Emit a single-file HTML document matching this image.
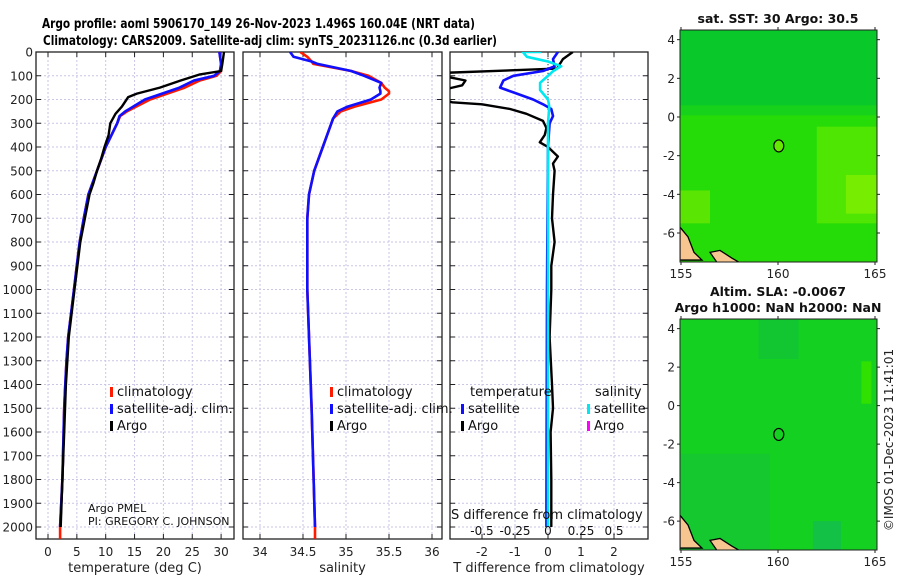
<!DOCTYPE html>
<html><head><meta charset="utf-8"><style>
html,body{margin:0;padding:0;background:#fff;}
svg{display:block;font-family:"DejaVu Sans","Liberation Sans",sans-serif;}
</style></head><body>
<svg id="fig" width="900" height="580" viewBox="0 0 900 580" xmlns="http://www.w3.org/2000/svg">
<text x="42" y="28" font-size="13" font-weight="bold" textLength="433" lengthAdjust="spacingAndGlyphs">Argo profile: aoml 5906170_149 26-Nov-2023 1.496S 160.04E (NRT data)</text>
<text x="43" y="45" font-size="13" font-weight="bold" textLength="454" lengthAdjust="spacingAndGlyphs">Climatology: CARS2009. Satellite-adj clim: synTS_20231126.nc (0.3d earlier)</text>
<g id="panels"></g>
<g id="maps"></g>
<text transform="translate(893,440) rotate(-90)" text-anchor="middle" font-size="12" fill="#222">©IMOS 01-Dec-2023 11:41:01</text>
</svg>
<script>
// ---------- data ----------
const depthTicks=[0,100,200,300,400,500,600,700,800,900,1000,1100,1200,1300,1400,1500,1600,1700,1800,1900,2000];
const tempTicks=[0,5,10,15,20,25,30];
const salTicks=[34,34.5,35,35.5,36];
const tdiffTicks=[-2,-1,0,1,2];
const sdiffTicks=[-0.5,-0.25,0,0.25,0.5];
const sdiffLabels=["-0.5","-0.25","0","0.25","0.5"];

const climDepth=[0,50,80,100,120,150,200,250,270,300,400,500,600,700,800,900,1000,1100,1200,1300,1400,1500,1600,1800,2000,2050];
const climTemp=[29.7,30,30,29.2,26.3,23.7,17.7,13.7,12.5,12,10,8.5,7,6.2,5.5,5,4.5,4,3.5,3.2,3,2.8,2.7,2.5,2.1,2.1];
const satTemp=[29.7,30,29.8,28.8,25.3,22.8,16.8,13.4,12.4,12,10,8.5,7,6.2,5.5,5,4.5,4,3.5,3.2,3,2.8,2.7,2.5,2.1,null];
const argoDepth=[0,50,80,95,120,150,175,190,230,260,300,350,400,450,500,550,600,700,800,900,1000,1200,1400,1600,1800,2000];
const argoTemp=[30.5,30.2,30,26.2,23,19.4,15.4,13.9,12.8,11.7,10.8,10.5,9.8,9.2,8.5,7.9,7.2,6.4,5.6,5.1,4.6,3.6,3.1,2.8,2.5,2.2];

const salDepth=[0,20,40,50,80,100,130,150,165,175,200,230,250,280,400,500,600,700,1000,1500,2000,2050];
const climSal=[34.47,34.55,34.6,34.62,35.06,35.26,35.41,35.45,35.5,35.5,35.41,35.1,34.94,34.85,34.73,34.63,34.57,34.55,34.55,34.6,34.64,34.64];
const satSal=[34.35,34.39,34.6,34.67,35.06,35.21,35.41,35.39,35.4,35.4,35.29,35.02,34.9,34.85,34.73,34.63,34.57,34.55,34.55,34.6,34.64,null];

const tdiffArgoDepth=[0,30,70,88,100,120,140,160,200,212,220,240,260,290,320,350,380,400,440,470,500,600,700,800,900,1000,1200,1400,1500,1600,1800,2000];
const tdiffArgo=[0.75,0.45,0.27,-3.2,-3.2,-2.5,-2.6,-3.2,-3.2,-2.9,-2.0,-1.15,-0.65,-0.15,-0.05,-0.1,-0.25,0,0.3,0.15,0.2,0.15,0.12,0.2,0.1,0.1,0.05,0.12,0.15,0.08,0.1,0.1];
const tdiffSatDepth=[0,30,60,80,100,120,150,170,200,220,240,270,300,400,1000,2000];
const tdiffSat=[0.3,0.15,0.2,-0.15,-1.05,-1.35,-1.45,-1.05,-0.45,-0.15,0.1,0.15,0.05,0,-0.03,-0.05];
const sdiffSatDepth=[0,0,20,40,60,80,100,130,160,200,230,300,1000,2000];
const sdiffSat=[-0.05,-0.19,-0.16,0,0.1,0.04,0,-0.06,-0.06,0,0.01,0,0,0];

// ---------- helpers ----------
const NS="http://www.w3.org/2000/svg";
const panels=document.getElementById('panels');
function mk(tag,attrs,parent){const e=document.createElementNS(NS,tag);for(const k in attrs)e.setAttribute(k,attrs[k]);(parent||panels).appendChild(e);return e;}
const TOP=52,BOT=539;
function yD(d){return 52+d*0.2375;}

function panel(name,x0,x1,xfn,ticks,labels,xtitle,showDepthLabels){
  const g=mk('g',{});
  
  
  depthTicks.forEach(d=>{const l=mk('line',{x1:x0,x2:x1,y1:yD(d),y2:yD(d),stroke:'#c9c6e6','stroke-width':1,'stroke-dasharray':'2,2'},g);
    
    mk('line',{x1:x0,x2:x0+5,y1:yD(d),y2:yD(d),stroke:'#222'},g);
    mk('line',{x1:x1-5,x2:x1,y1:yD(d),y2:yD(d),stroke:'#222'},g);
    if(showDepthLabels){const t=mk('text',{x:33,y:yD(d)+4.5,'text-anchor':'end','font-size':12,fill:'#222'},g);t.textContent=d;
      }
  });
  ticks.forEach((v,i)=>{const x=xfn(v);
    const l=mk('line',{x1:x,x2:x,y1:TOP,y2:BOT,stroke:'#c9c6e6','stroke-width':1,'stroke-dasharray':'2,2'},g);
    
    mk('line',{x1:x,x2:x,y1:TOP,y2:TOP+5,stroke:'#222'},g);
    mk('line',{x1:x,x2:x,y1:BOT-5,y2:BOT,stroke:'#222'},g);
    if(labels){const t=mk('text',{x:x,y:556,'text-anchor':'middle','font-size':12,fill:'#222'},g);t.textContent=labels[i];
      }
  });
  const r=mk('rect',{x:x0,y:TOP,width:x1-x0,height:BOT-TOP,fill:'none',stroke:'#222','stroke-width':1.3},g);
  
  const tt=mk('text',{x:(x0+x1)/2,y:572,'text-anchor':'middle','font-size':13,fill:'#222'},g);tt.textContent=xtitle;
  
  return g;
}
function line(g,name,xs,ds,xfn,color,w){
  let pts=[];for(let i=0;i<xs.length;i++){if(xs[i]===null)continue;let x=xfn(xs[i]);pts.push(x.toFixed(1)+','+yD(ds[i]).toFixed(1));}
  const p=mk('polyline',{points:pts.join(' '),fill:'none',stroke:color,'stroke-width':w,'stroke-linejoin':'round'},g);
  
}
function legend(g,name,x,y,color,label){
  const m=mk('rect',{x:x,y:y-9,width:3,height:10,fill:color},g);
  
  const t=mk('text',{x:x+7,y:y,'font-size':13,fill:'#111'},g);t.textContent=label;
  
}
const clipId=(n,x0,x1)=>{const c=mk('clipPath',{id:n});mk('rect',{x:x0,y:TOP,width:x1-x0,height:BOT-TOP},c);return 'url(#'+n+')';};

// panel 1 temperature
const xT=v=>48+5.77*v;
const p1=panel('temperature-panel',36,234,xT,tempTicks,tempTicks.map(String),'temperature (deg C)',true);
const g1=mk('g',{'clip-path':clipId('c1',36,234)},p1);
line(g1,'temp-climatology-line',climTemp,climDepth,xT,'#ff1a00',2.6);
line(g1,'temp-satellite-line',satTemp,climDepth,xT,'#1010ff',2.6);
line(g1,'temp-argo-line',argoTemp,argoDepth,xT,'#000',2.4);
legend(p1,'legend-climatology',110,396,'#ff1a00','climatology');
legend(p1,'legend-satellite-adj',110,413,'#1010ff','satellite-adj. clim.');
legend(p1,'legend-argo',110,430,'#000','Argo');
let t=mk('text',{x:88,y:512,'font-size':11,fill:'#111'},p1);t.textContent='Argo PMEL';
t=mk('text',{x:88,y:525,'font-size':11,fill:'#111'},p1);t.textContent='PI: GREGORY C. JOHNSON';

// panel 2 salinity
const xS=v=>260+86*(v-34);
const p2=panel('salinity-panel',243,442,xS,salTicks,salTicks.map(String),'salinity',false);
const g2=mk('g',{'clip-path':clipId('c2',243,442)},p2);
line(g2,'sal-climatology-line',climSal,salDepth,xS,'#ff1a00',2.6);
line(g2,'sal-satellite-line',satSal,salDepth,xS,'#1010ff',2.6);
legend(p2,'legend-climatology-sal',330,396,'#ff1a00','climatology');
legend(p2,'legend-satellite-adj-sal',330,413,'#1010ff','satellite-adj. clim.');
legend(p2,'legend-argo-sal',330,430,'#000','Argo');

// panel 3 differences
const xTD=v=>548+33*v;
const xSD=v=>548+132*v;
const p3=panel('difference-panel',450,648,xTD,tdiffTicks,tdiffTicks.map(String),'T difference from climatology',false);
const g3=mk('g',{'clip-path':clipId('c3',450,648)},p3);
let z=mk('line',{x1:548,x2:548,y1:TOP,y2:112,stroke:'#333','stroke-dasharray':'1,2'},g3);
line(g3,'tdiff-argo-line',tdiffArgo,tdiffArgoDepth,xTD,'#000',2.4);
line(g3,'tdiff-satellite-line',tdiffSat,tdiffSatDepth,xTD,'#1010ff',2.6);
line(g3,'sdiff-satellite-line',sdiffSat,sdiffSatDepth,xSD,'#00e8f0',2.6);
legend(p3,'legend-temp-satellite',461,413,'#1010ff','satellite');
legend(p3,'legend-temp-argo',461,430,'#000','Argo');
legend(p3,'legend-sal-satellite',587,413,'#00e8f0','satellite');
legend(p3,'legend-sal-argo',587,430,'#ff00ff','Argo');
t=mk('text',{x:470,y:396,'font-size':13,fill:'#111'},p3);t.textContent='temperature';
t=mk('text',{x:595,y:396,'font-size':13,fill:'#111'},p3);t.textContent='salinity';
t=mk('text',{x:451,y:519,'font-size':13,fill:'#111'},p3);t.textContent='S difference from climatology';
sdiffTicks.forEach((v,i)=>{const tt=mk('text',{x:xSD(v),y:535,'text-anchor':'middle','font-size':12,fill:'#111'},p3);tt.textContent=sdiffLabels[i];
  });

// ---------- maps ----------
const maps=document.getElementById('maps');
const lonTicks=[155,160,165];
const latTicks=[4,2,0,-2,-4,-6];
function map(name,y0,y1,title1,title2,kind){
  const g=mk('g',{},maps);
  
  const x0=680,x1=877;
  const xl=v=>681+19.4*(v-155);
  const yl=v=>y0+(4.5-v)*(y1-y0)/12;
  const id=name+'-clip';
  const c=mk('clipPath',{id:id},g);mk('rect',{x:x0,y:y0,width:x1-x0,height:y1-y0},c);
  const ig=mk('g',{'clip-path':'url(#'+id+')'},g);
  if(kind==='sst'){
    mk('rect',{x:x0,y:y0,width:x1-x0,height:y1-y0,fill:'#26dc08'},ig);
    mk('rect',{x:x0,y:y0,width:x1-x0,height:yl(0.6)-y0,fill:'#08c82a'},ig);
    mk('rect',{x:x0,y:yl(0.6),width:x1-x0,height:10,fill:'#16d21a'},ig);
    mk('rect',{x:xl(162),y:yl(-0.5),width:x1-xl(162),height:yl(-5.5)-yl(-0.5),fill:'#5ae804',opacity:0.8},ig);
    mk('rect',{x:xl(163.5),y:yl(-3),width:x1-xl(163.5),height:yl(-5)-yl(-3),fill:'#88f000',opacity:0.7},ig);
    mk('rect',{x:x0,y:yl(-3.8),width:30,height:yl(-5.5)-yl(-3.8),fill:'#70e800',opacity:0.7},ig);
  } else {
    mk('rect',{x:x0,y:y0,width:x1-x0,height:y1-y0,fill:'#14d020'},ig);
    mk('rect',{x:xl(159),y:y0,width:40,height:40,fill:'#10c040',opacity:0.6},ig);
    mk('rect',{x:x0,y:yl(-2.5),width:90,height:yl(-7.5)-yl(-2.5),fill:'#18c040',opacity:0.5},ig);
    mk('rect',{x:xl(161.8),y:yl(-6),width:28,height:30,fill:'#10b860',opacity:0.6},ig);
    mk('rect',{x:xl(164.3),y:yl(2.3),width:10,height:yl(0.1)-yl(2.3),fill:'#30e000'},ig);
  }
  const land=mk('path',{d:`M${x0} ${yl(-5.7)} L${x0+8} ${yl(-6.2)} L${x0+14} ${yl(-7)} L${x0+22} ${yl(-7.4)} L${x0} ${yl(-7.4)} Z M${x0+30} ${yl(-7.0)} L${x0+40} ${yl(-6.9)} L${x0+52} ${yl(-7.3)} L${x0+62} ${yl(-7.6)} L${x0+38} ${yl(-7.6)} Z`,fill:'#f7c690',stroke:'#000','stroke-width':1.3},ig);
  
  const ci=mk('ellipse',{cx:xl(160.04),cy:yl(-1.496),rx:5,ry:6,fill:kind==='sst'?'#66e800':'none',stroke:'#000','stroke-width':1.2},g);
  
  mk('rect',{x:x0,y:y0,width:x1-x0,height:y1-y0,fill:'none',stroke:'#222','stroke-width':1},g);
  latTicks.forEach(v=>{const y=yl(v);mk('line',{x1:x0-3,x2:x0,y1:y,y2:y,stroke:'#222'},g);mk('line',{x1:x1,x2:x1+3,y1:y,y2:y,stroke:'#222'},g);
    const tt=mk('text',{x:675,y:y+4.5,'text-anchor':'end','font-size':12,fill:'#222'},g);tt.textContent=String(v);
    });
  lonTicks.forEach(v=>{const x=xl(v);mk('line',{x1:x,x2:x,y1:y0-3,y2:y0,stroke:'#222'},g);mk('line',{x1:x,x2:x,y1:y1,y2:y1+3,stroke:'#222'},g);
    const tt=mk('text',{x:x,y:y1+16,'text-anchor':'middle','font-size':12,fill:'#222'},g);tt.textContent=String(v);
    });
  let tt=mk('text',{x:778,y:title2?y0-23:y0-7,'text-anchor':'middle','font-size':12.5,'font-weight':'bold',fill:'#111'},g);tt.textContent=title1;
  
  if(title2){tt=mk('text',{x:778,y:y0-7,'text-anchor':'middle','font-size':12.5,'font-weight':'bold',fill:'#111'},g);tt.textContent=title2;
    }
}
map('sst-map',30,262,'sat. SST: 30 Argo: 30.5',null,'sst');
map('sla-map',319,550,'Altim. SLA: -0.0067','Argo h1000: NaN h2000: NaN','sla');
</script>
</body></html>
